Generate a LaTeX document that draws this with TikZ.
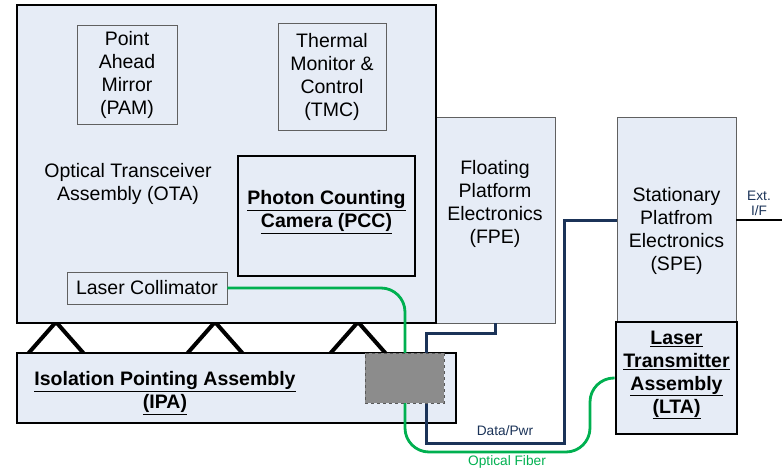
\documentclass[tikz,border=0pt]{standalone}
\usepackage{fontspec}
\setmainfont{Liberation Sans}
\usepackage{tikz}
\usetikzlibrary{arrows.meta, positioning, calc}
\usepackage{xcolor}
\definecolor{panelfill}{HTML}{E6ECF6}
\definecolor{harness}{HTML}{1B3358}
\definecolor{fibergreen}{HTML}{00B050}
\definecolor{thinline}{HTML}{606060}

\begin{document}
\begin{tikzpicture}[
  x=1pt, y=-1pt,
  font=\fontsize{19.5}{23}\selectfont,
  unit/.style={rectangle, draw=black, line width=2.6pt, fill=panelfill, inner sep=0pt,
               align=center},
  sub/.style={rectangle, draw=thinline, line width=0.9pt, fill=panelfill, inner sep=0pt,
              align=center},
  lbl/.style={align=center, inner sep=0pt},
  blbl/.style={align=center, inner sep=0pt, font=\fontsize{19.5}{23}\selectfont\bfseries},
  sml/.style={align=center, inner sep=0pt, text=harness, font=\fontsize{13.7}{15}\selectfont},
  fiber/.style={draw=fibergreen, line width=2.8pt, rounded corners=24pt},
  harnessline/.style={draw=harness, line width=3pt},
  flex/.style={draw=black, line width=4pt}
]
\useasboundingbox (0,0) rectangle (782,471);

% ---------------------------------------------- floating platform electronics
\node[sub, minimum width=120pt, minimum height=206pt] (fpe) at (495,220) {};
\node[lbl] (fpetxt) at (495,204) {Floating\\ Platform\\ Electronics\\ (FPE)};

% ---------------------------------------------- flexures between OTA and IPA
\foreach \fx in {56,215,358}
  \draw[flex] (\fx-30,356) -- (\fx,322) -- (\fx+30,356);

% ---------------------------------------------- optical transceiver assembly
\node[unit, minimum width=419pt, minimum height=318pt] (ota) at (226.5,164) {};
\node[lbl] (otatxt) at (128,184) {Optical Transceiver\\ Assembly (OTA)};

\node[sub, minimum width=100pt, minimum height=99pt] (pam) at (127,74.5)
  {Point\\ Ahead\\ Mirror\\ (PAM)};
\node[sub, minimum width=108pt, minimum height=107pt] (tmc) at (332,76.5)
  {Thermal\\ Monitor \&\\ Control\\ (TMC)};
\node[unit, minimum width=177pt, minimum height=120pt] (pcc) at (326.5,216) {};
\node[blbl] (pcctxt) at (326.5,212) {\underline{Photon Counting}\\ \underline{Camera (PCC)}};
\node[sub, minimum width=160pt, minimum height=32pt] (lc) at (147,288) {Laser Collimator};

% ---------------------------------------------- isolation pointing assembly
\node[unit, minimum width=439pt, minimum height=70pt] (ipa) at (236.5,388) {};
\node[blbl] (ipatxt) at (165,393) {\underline{Isolation Pointing Assembly}\\ \underline{(IPA)}};

% ---------------------------------------------- stationary side
\node[sub, minimum width=119pt, minimum height=206pt] (spe) at (676.5,220) {};
\node[lbl] (spetxt) at (676.5,231) {Stationary\\ Platfrom\\ Electronics\\ (SPE)};
\node[unit, minimum width=121pt, minimum height=112pt] (lta) at (676.5,378) {};
\node[blbl] (ltatxt) at (676.5,375)
  {\underline{Laser}\\ \underline{Transmitter}\\ \underline{Assembly}\\ \underline{(LTA)}};

\coordinate (extif) at (782,220);
\draw[draw=black, line width=2.6pt] (spe.east) -- (extif);
\node[sml] (exttxt) at (759,203) {Ext.\\ I/F};

% ---------------------------------------------- cables
\coordinate (pwr1) at (495,333);
\coordinate (pwr2) at (426,333);
\coordinate (pwr3) at (426,443);
\coordinate (pwr4) at (564,443);
\draw[harnessline] (fpe.south) -- (pwr1) -- (pwr2) -- (pwr3) -- (pwr4) |- (spe.west);

\coordinate (fib1) at (405,288);
\coordinate (fib2) at (405,452);
\coordinate (fib3) at (590,452);
\draw[fiber] (lc.east) -- (fib1) -- (fib2) -- (fib3) |- (lta.west);

\node[sml] (pwrtxt) at (505,431) {Data/Pwr};
\node[sml, text=fibergreen] (fibtxt) at (507,462) {Optical Fiber};

% ---------------------------------------------- rotary joint
\node[rectangle, draw=black!65, dashed, line width=1pt, fill=black!45,
      minimum width=79pt, minimum height=50pt, inner sep=0pt] (joint) at (404.5,378) {};

\end{tikzpicture}
\end{document}
